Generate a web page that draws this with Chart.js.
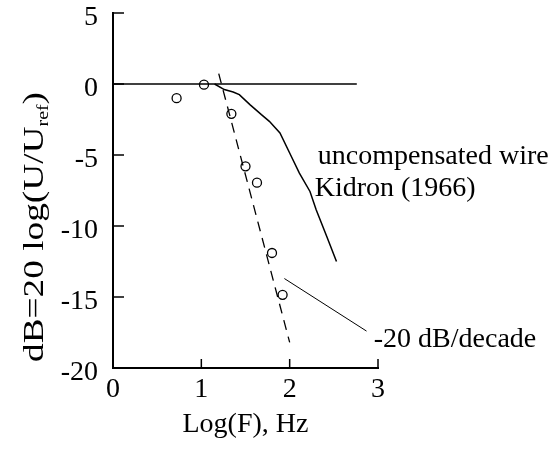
<!DOCTYPE html>
<html><head><meta charset="utf-8">
<script src="https://cdn.jsdelivr.net/npm/chart.js@4"></script>
<style>html,body{margin:0;padding:0;background:#fff}canvas{display:block}</style>
</head><body>
<canvas id="c" width="557" height="457"></canvas>
<script>
// ---- data ----
const xTicks = [0, 1, 2, 3];
const yTicks = [5, 0, -5, -10, -15, -20];
const refLineX = [0, 2.76];
const refLineY = [0, 0];
const wireX = [1.15, 1.26, 1.36, 1.43, 1.55, 1.68, 1.77, 1.89, 2.0, 2.11, 2.23, 2.30, 2.42, 2.53];
const wireY = [0, -0.39, -0.56, -0.75, -1.45, -2.16, -2.63, -3.45, -4.86, -6.27, -7.57, -8.86, -10.74, -12.5];
const measX = [0.72, 1.03, 1.34, 1.50, 1.63, 1.80, 1.92];
const measY = [-1.0, -0.05, -2.1, -5.8, -6.95, -11.9, -14.85];
const slopeX = [1.197, 2.0];
const slopeY = [0.73, -18.2];
const leaderX = [1.94, 2.87];
const leaderY = [-13.7, -17.4];
const noteText = ['uncompensated wire', 'Kidron (1966)', '-20 dB/decade'];
const noteX = [2.318, 2.283, 2.952];
const noteY = [-5.61, -7.87, -18.52];

const FONT = '"Liberation Serif", "Times New Roman", serif';
const zip = (xs, ys) => xs.map((v, i) => ({x: v, y: ys[i]}));

const overlay = {
  id: 'overlay',
  afterDatasetsDraw(chart) {
    const {ctx, chartArea: a, scales: {x, y}} = chart;
    ctx.save();
    ctx.strokeStyle = '#000';
    ctx.lineWidth = 1.5;
    yTicks.forEach(v => {
      const py = y.getPixelForValue(v);
      ctx.beginPath(); ctx.moveTo(a.left, py); ctx.lineTo(a.left + 11, py); ctx.stroke();
    });
    xTicks.slice(1).forEach(v => {
      const px = x.getPixelForValue(v);
      ctx.beginPath(); ctx.moveTo(px, a.bottom); ctx.lineTo(px, a.bottom - 9); ctx.stroke();
    });
    // annotations
    ctx.fillStyle = '#000';
    ctx.font = '28px ' + FONT;
    ctx.textAlign = 'left';
    ctx.textBaseline = 'alphabetic';
    noteText.forEach((t, i) => ctx.fillText(t, x.getPixelForValue(noteX[i]), y.getPixelForValue(noteY[i])));
    // y axis title with subscript
    const parts = [{t: 'dB=20 log(U/U', f: 30, dy: 0}, {t: 'ref', f: 16, dy: 5}, {t: ')', f: 30, dy: 0}];
    let w = 0;
    parts.forEach(p => { ctx.font = p.f + 'px ' + FONT; p.w = ctx.measureText(p.t).width; w += p.w; });
    const span = 270;
    const sx = span / w;
    ctx.translate(43, 227);
    ctx.rotate(-Math.PI / 2);
    ctx.scale(sx, 1);
    let u = -w / 2;
    parts.forEach(p => { ctx.font = p.f + 'px ' + FONT; ctx.fillText(p.t, u, p.dy); u += p.w; });
    ctx.restore();
  }
};

const tickFont = {family: FONT, size: 28, lineHeight: 1};

new Chart(document.getElementById('c'), {
  type: 'scatter',
  data: {datasets: [
    {data: zip(refLineX, refLineY), showLine: true, borderColor: '#000', borderWidth: 1.6, pointRadius: 0},
    {data: zip(wireX, wireY), showLine: true, borderColor: '#000', borderWidth: 1.5, pointRadius: 0},
    {data: zip(slopeX, slopeY), showLine: true, borderColor: '#000', borderWidth: 1.3, borderDash: [10, 7], pointRadius: 0},
    {data: zip(leaderX, leaderY), showLine: true, borderColor: '#000', borderWidth: 1, pointRadius: 0},
    {data: zip(measX, measY), showLine: false, pointRadius: 4.5, pointBorderColor: '#000',
     pointBackgroundColor: 'rgba(0,0,0,0)', pointBorderWidth: 1.3}
  ]},
  options: {
    responsive: false, animation: false, devicePixelRatio: 1,
    layout: {padding: {left: 0, right: 179, top: 13, bottom: 0}},
    plugins: {legend: {display: false}, tooltip: {enabled: false}},
    scales: {
      x: {
        type: 'linear', min: 0, max: 3,
        afterFit(s) { s.height = 89; s.paddingLeft = 0; s.paddingRight = 0; },
        ticks: {stepSize: 1, padding: 8, color: '#000', font: tickFont},
        grid: {display: true, drawOnChartArea: false, drawTicks: false},
        border: {display: true, color: '#000', width: 2},
        title: {display: true, text: 'Log(F), Hz', color: '#000',
                font: {family: FONT, size: 28, lineHeight: 1.2}, padding: {top: 0, bottom: 16}}
      },
      y: {
        type: 'linear', min: -20, max: 5,
        afterFit(s) { s.width = 113; s.paddingTop = 0; s.paddingBottom = 0; },
        ticks: {stepSize: 5, padding: 15, labelOffset: 5, color: '#000', font: tickFont},
        grid: {display: true, drawOnChartArea: false, drawTicks: false},
        border: {display: true, color: '#000', width: 2}
      }
    }
  },
  plugins: [overlay]
});
</script>
</body></html>
